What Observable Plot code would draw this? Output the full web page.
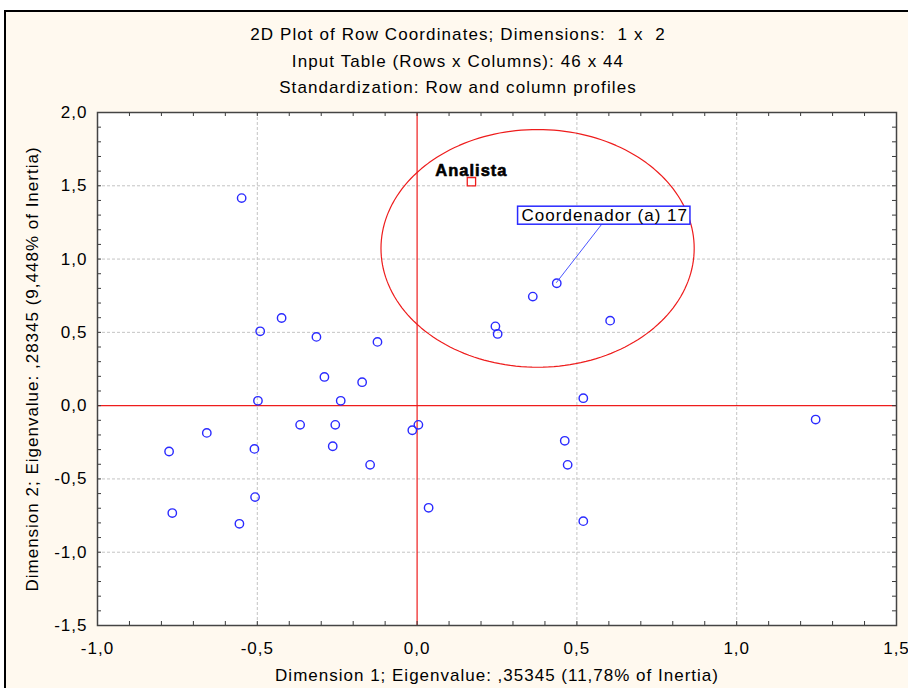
<!DOCTYPE html>
<html>
<head>
<meta charset="utf-8">
<script src="https://cdn.jsdelivr.net/npm/d3@7"></script>
<script src="https://cdn.jsdelivr.net/npm/@observablehq/plot@0.6"></script>
<style>
  html, body { margin: 0; padding: 0; width: 908px; height: 688px; overflow: hidden; background: #ffffff; }
  #frame { position: absolute; left: 4px; top: 10px; width: 1000px; height: 1000px;
           border-top: 2px solid #000; border-left: 2px solid #000; background: #fff9ef; }
  #title { position: absolute; left: 0; top: 22px; width: 916px; text-align: center;
           font-family: "Liberation Sans", Arial, sans-serif; font-size: 17px; letter-spacing: 1.1px;
           line-height: 26.5px; color: #000; }
  #chart { position: absolute; left: 0; top: 100px; }
  #chart svg text { letter-spacing: 1px; }
</style>
</head>
<body>
<div id="frame"></div>
<div id="title"></div>
<div id="chart"></div>
<script>
// ---- data ----
const titleLines = [
  "2D Plot of Row Coordinates; Dimensions:\u00a0 1 x\u00a0 2",
  "Input Table (Rows x Columns): 46 x 44",
  "Standardization: Row and column profiles"
];
const xLabel = "Dimension 1; Eigenvalue: ,35345 (11,78% of Inertia)";
const yLabel = "Dimension 2; Eigenvalue: ,28345 (9,448% of Inertia)";
const xTicks = [-1.0, -0.5, 0.0, 0.5, 1.0, 1.5];
const yTicks = [-1.5, -1.0, -0.5, 0.0, 0.5, 1.0, 1.5, 2.0];

// row coordinates (dimension 1, dimension 2)
const dim1 = [-0.549, -0.424, -0.491, -0.315, -0.124, -0.290, -0.172, 0.245, 0.252, 0.437,
              0.362, 0.604, -0.498, -0.239, -0.366, -0.256, 0.004, -0.015, -0.658, -0.776,
              -0.509, -0.264, -0.147, -0.507, -0.766, -0.556, 0.036, 0.520, 1.247, 0.462,
              0.471, 0.520];
const dim2 = [1.416, 0.598, 0.507, 0.469, 0.435, 0.196, 0.160, 0.541, 0.489, 0.835,
              0.744, 0.580, 0.033, 0.033, -0.131, -0.131, -0.131, -0.168, -0.186, -0.313,
              -0.295, -0.277, -0.404, -0.624, -0.733, -0.806, -0.697, 0.051, -0.095, -0.240,
              -0.404, -0.788];
const labeledIndex = 9;
const labeledText = "Coordenador (a) 17";

// supplementary point
const suppName = ["Analista"];
const suppX = [0.170];
const suppY = [1.528];

// ellipse (center, radii) drawn around the group
const ellCenter = [0.377, 1.073];
const ellRadii = [0.490, 0.811];

// ---- build ----
document.getElementById("title").innerHTML = titleLines.map(s => `<div>${s}</div>`).join("");

const pts = dim1.map((x, i) => ({x, y: dim2[i]}));
const supp = suppName.map((n, i) => ({name: n, x: suppX[i], y: suppY[i]}));
const ellipse = d3.range(0, 361, 2).map(a => {
  const t = a * Math.PI / 180;
  return {x: ellCenter[0] + ellRadii[0] * Math.cos(t), y: ellCenter[1] + ellRadii[1] * Math.sin(t)};
});

const W = 908, H = 588, mL = 97, mR = 12, mT = 12, mB = 63;
const innerW = W - mL - mR, innerH = H - mT - mB;
const minorX = d3.range(-10, 16).map(i => i / 10);
const minorY = d3.range(-15, 21).map(i => i / 10);
const fmt = d => d.toFixed(1).replace(".", ",");
const tickColor = "#3a3a3a";

const chart = Plot.plot({
  width: W, height: H,
  marginLeft: mL, marginRight: mR, marginTop: mT, marginBottom: mB,
  style: {background: "transparent", fontFamily: "'Liberation Sans', Arial, sans-serif", fontSize: "17px", color: "#000", overflow: "visible"},
  x: {domain: [-1.0, 1.5], axis: null},
  y: {domain: [-1.5, 2.0], axis: null},
  marks: [
    Plot.frame({fill: "white"}),
    Plot.ruleX(xTicks.filter(d => d !== 0 && d > -1 && d < 1.5), {stroke: "#c4c4c4", strokeDasharray: "3,2"}),
    Plot.ruleY(yTicks.filter(d => d !== 0 && d > -1.5 && d < 2.0), {stroke: "#c4c4c4", strokeDasharray: "3,2"}),
    Plot.ruleX([0], {stroke: "#ee1c1c", strokeWidth: 1.2}),
    Plot.ruleY([0], {stroke: "#ee1c1c", strokeWidth: 1.2}),
    // inside ticks on all four sides
    Plot.ruleX(minorX, {insetTop: innerH - 4, stroke: tickColor}),
    Plot.ruleX(minorX, {insetBottom: innerH - 4, stroke: tickColor}),
    Plot.ruleY(minorY, {insetRight: innerW - 4, stroke: tickColor}),
    Plot.ruleY(minorY, {insetLeft: innerW - 4, stroke: tickColor}),
    Plot.frame({stroke: "#444", strokeWidth: 1.5}),
    // ellipse
    Plot.line(ellipse, {x: "x", y: "y", stroke: "#ee1c1c", strokeWidth: 1.2, curve: "linear"}),
    // points
    Plot.dot(pts, {x: "x", y: "y", r: 4.2, stroke: "#2a2aff", strokeWidth: 1.4, fill: "none"}),
    Plot.dot(supp, {x: "x", y: "y", symbol: "square", r: 4.7, stroke: "#ee1c1c", strokeWidth: 1.3, fill: "none"}),
    Plot.text(supp, {x: "x", y: "y", text: "name", dy: -11, fontWeight: "bold", fontSize: 16.5, fill: "#000", stroke: "#000", strokeWidth: 0.6}),
    Plot.text([pts[labeledIndex]], {x: "x", y: "y", text: () => labeledText, dx: 48, dy: -68, fontSize: 17, fill: "#000"}),
    // axes
    Plot.axisX(xTicks, {anchor: "bottom", tickSize: 0, tickPadding: 16, tickFormat: fmt, fontSize: 17, label: null}),
    Plot.axisY(yTicks, {anchor: "left", tickSize: 0, tickPadding: 10, tickFormat: fmt, fontSize: 17, label: null}),
    Plot.text([xLabel], {frameAnchor: "bottom", dy: 55, fontSize: 17, fill: "#000"}),
    Plot.text([yLabel], {frameAnchor: "left", textAnchor: "middle", rotate: -90, dx: -65, fontSize: 17, fill: "#000"})
  ]
});
document.getElementById("chart").append(chart);

// box around the annotation and its leader line
const sx = chart.scale("x"), sy = chart.scale("y");
const svgRect = chart.getBoundingClientRect();
const lab = [...chart.querySelectorAll("text")].find(t => t.textContent === labeledText);
if (lab) {
  const r = lab.getBoundingClientRect();
  const bx = r.left - svgRect.left - 4, by = r.top - svgRect.top + 0.5;
  const bw = r.width + 6, bh = r.height - 1;
  let g = lab; while (g.parentNode !== chart) g = g.parentNode;
  const ns = "http://www.w3.org/2000/svg";
  const line = document.createElementNS(ns, "line");
  const px = sx.apply(pts[labeledIndex].x), py = sy.apply(pts[labeledIndex].y);
  line.setAttribute("x1", px); line.setAttribute("y1", py);
  line.setAttribute("x2", bx + bw / 2 - 2); line.setAttribute("y2", by + bh);
  line.setAttribute("stroke", "#4a55ff"); line.setAttribute("stroke-width", 1);
  const rect = document.createElementNS(ns, "rect");
  rect.setAttribute("x", bx); rect.setAttribute("y", by);
  rect.setAttribute("width", bw); rect.setAttribute("height", bh);
  rect.setAttribute("fill", "white"); rect.setAttribute("stroke", "#2a2aff"); rect.setAttribute("stroke-width", 1.5);
  chart.insertBefore(line, g);
  chart.insertBefore(rect, g);
}
</script>
</body>
</html>
